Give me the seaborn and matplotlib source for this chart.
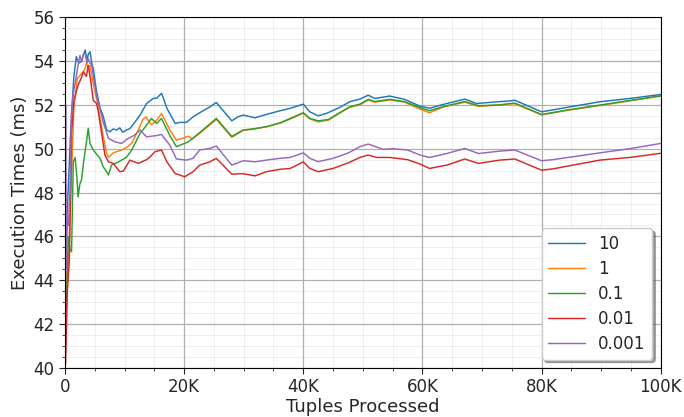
import matplotlib
matplotlib.use("Agg")
import matplotlib.pyplot as plt
from matplotlib.ticker import MultipleLocator, FuncFormatter
import numpy as np
import pandas as pd
import seaborn as sns

# Execution time (ms) as tuples are processed, one series per parameter value.
# x values are in thousands of tuples.
labels = ["10", "1", "0.1", "0.01", "0.001"]
colors = ["#1f77b4", "#ff7f0e", "#2ca02c", "#d62728", "#9467bd"]

x_10 = [0, 0.15, 0.35, 0.6, 0.9, 1.2, 1.5, 1.9, 2.3, 2.8, 3.1, 3.4, 3.7, 3.9, 4.2, 4.5,
        4.75, 5.3, 5.9, 6.4, 7.0, 7.55, 8.1, 8.7, 9.2, 9.7, 10.3, 10.9, 11.7, 12.6, 13.7,
        14.8, 15.4, 15.9, 16.2, 16.6, 17.1, 18.0, 18.5, 19.3, 20.4, 21.5, 22.6, 24.3, 25.4,
        26.5, 28.0, 29.0, 29.9, 31.9, 33.8, 36.1, 37.8, 40.0, 41.1, 42.5, 43.9, 46.1, 47.8,
        49.5, 50.9, 52.0, 54.5, 57.0, 59.6, 61.2, 63.5, 67.1, 69.1, 71.3, 74.7, 75.5, 80.0,
        84.2, 89.8, 94.8, 100]
y_10 = [43.0, 45.5, 47.0, 48.5, 50.5, 52.0, 53.3, 54.2, 53.9, 54.0, 54.3, 54.5, 54.0, 54.3,
        54.42, 53.9, 53.66, 52.6, 51.85, 51.5, 50.85, 50.77, 50.9, 50.85, 50.95, 50.75, 50.85,
        50.92, 51.2, 51.53, 52.06, 52.29, 52.3, 52.44, 52.52, 52.25, 51.84, 51.4, 51.15, 51.2,
        51.2, 51.45, 51.64, 51.9, 52.11, 51.75, 51.27, 51.45, 51.53, 51.41, 51.56, 51.73,
        51.84, 52.03, 51.68, 51.5, 51.61, 51.88, 52.14, 52.26, 52.44, 52.29, 52.4, 52.25,
        51.94, 51.84, 52.02, 52.26, 52.06, 52.11, 52.18, 52.21, 51.68, 51.88, 52.14, 52.29,
        52.47]

x_1 = [0, 0.2, 0.56, 0.96, 1.5, 2.07, 2.8, 3.3, 3.6, 3.9, 4.2, 4.75, 5.3, 5.9, 6.4, 7.0,
       7.3, 8.1, 9.5, 10.3, 11.2, 12.3, 13.1, 13.6, 14.5, 15.4, 16.2, 16.8, 17.6, 18.7, 20.0,
       20.7, 21.4, 22.6, 24.3, 25.4, 28.0, 29.9, 31.9, 33.8, 36.1, 37.8, 40.0, 41.1, 42.5,
       44.2, 46.1, 47.8, 49.5, 50.9, 52.0, 54.5, 57.0, 59.6, 61.2, 63.5, 67.1, 69.4, 74.7,
       75.5, 80.0, 84.2, 89.8, 94.8, 100]
y_1 = [41.5, 43.5, 44.8, 47.66, 51.91, 53.2, 53.43, 53.6, 53.89, 53.7, 53.8, 52.98, 52.3,
       51.4, 50.6, 49.79, 49.6, 49.81, 49.94, 50.05, 50.24, 50.85, 51.34, 51.45, 51.08, 51.3,
       51.6, 51.3, 50.85, 50.39, 50.5, 50.57, 50.45, 50.7, 51.08, 51.34, 50.52, 50.83, 50.9,
       51.0, 51.16, 51.35, 51.62, 51.36, 51.22, 51.3, 51.62, 51.89, 52.0, 52.22, 52.12, 52.22,
       52.12, 51.8, 51.64, 51.9, 52.12, 51.93, 52.04, 52.05, 51.54, 51.74, 51.97, 52.18, 52.4]

x_01 = [0, 0.3, 0.55, 0.84, 1.1, 1.4, 1.7, 2.0, 2.2, 2.5, 2.8, 3.1, 3.4, 3.6, 3.9, 4.2,
        4.75, 5.3, 5.9, 6.4, 7.0, 7.3, 7.8, 8.4, 9.0, 9.5, 10.3, 11.2, 12.6, 13.5, 14.5, 15.4,
        16.2, 16.7, 17.6, 18.7, 20.7, 22.6, 25.4, 28.0, 29.9, 31.9, 33.8, 36.1, 37.8, 40.0,
        41.1, 42.5, 44.2, 46.1, 47.8, 49.5, 50.9, 52.0, 54.5, 57.0, 59.6, 61.2, 63.5, 67.1,
        69.4, 73.0, 74.7, 75.5, 80.0, 84.2, 89.8, 94.8, 100]
y_01 = [40.2, 43.5, 46.0, 45.4, 45.3, 49.4, 49.6, 48.7, 47.8, 48.4, 48.6, 49.33, 49.94, 50.3,
        50.93, 50.24, 49.94, 49.75, 49.56, 49.18, 48.95, 48.8, 49.25, 49.33, 49.4, 49.48, 49.6,
        49.94, 50.7, 51.0, 51.38, 51.15, 51.38, 51.1, 50.6, 50.09, 50.31, 50.73, 51.38, 50.56,
        50.85, 50.92, 51.0, 51.18, 51.38, 51.64, 51.38, 51.27, 51.33, 51.64, 51.91, 52.03,
        52.25, 52.15, 52.25, 52.15, 51.87, 51.73, 51.92, 52.15, 51.96, 51.99, 52.06, 52.08,
        51.56, 51.76, 51.99, 52.2, 52.41]

x_001 = [0, 0.1, 0.4, 0.73, 1.1, 1.5, 2.2, 2.7, 3.1, 3.6, 3.9, 4.3, 4.75, 5.3, 5.6, 6.2,
         6.7, 7.3, 8.1, 9.2, 9.8, 10.9, 12.3, 13.7, 14.3, 15.1, 16.2, 17.1, 18.5, 20.1, 21.5,
         22.6, 24.3, 25.4, 28.0, 29.9, 31.9, 33.8, 36.1, 37.8, 40.0, 41.1, 42.5, 45.0, 47.6,
         49.5, 50.9, 52.3, 54.5, 57.5, 59.6, 61.2, 64.1, 67.1, 69.4, 73.0, 75.5, 80.0, 81.9,
         89.8, 94.8, 100]
y_001 = [57.0, 40.2, 43.5, 44.92, 50.69, 52.2, 52.9, 53.2, 53.5, 53.3, 53.8, 53.13, 52.2,
         52.06, 51.68, 50.62, 49.71, 49.4, 49.33, 48.95, 48.98, 49.48, 49.33, 49.5, 49.63,
         49.86, 49.94, 49.4, 48.87, 48.72, 48.95, 49.25, 49.4, 49.56, 48.84, 48.86, 48.76,
         48.95, 49.06, 49.1, 49.4, 49.1, 48.95, 49.1, 49.36, 49.6, 49.71, 49.6, 49.6, 49.5,
         49.3, 49.1, 49.25, 49.53, 49.33, 49.48, 49.53, 49.02, 49.08, 49.48, 49.6, 49.79]

x_0001 = [0, 0.1, 0.2, 0.4, 0.55, 0.84, 1.1, 1.4, 1.7, 2.2, 2.5, 2.8, 3.1, 3.4, 3.7, 3.9,
          4.2, 4.5, 5.3, 5.9, 6.4, 7.3, 8.4, 9.5, 10.6, 11.6, 12.6, 13.7, 15.4, 16.2, 17.6,
          18.7, 20.4, 21.5, 22.6, 24.3, 25.4, 28.0, 29.9, 31.9, 33.8, 36.1, 37.8, 40.0, 41.1,
          42.5, 45.0, 47.6, 49.5, 50.9, 53.4, 55.0, 57.5, 59.6, 61.2, 64.1, 67.1, 69.4, 73.0,
          75.5, 80.0, 81.9, 89.8, 94.8, 100]
y_0001 = [41.0, 52.0, 44.5, 46.8, 46.5, 47.97, 51.76, 52.5, 52.98, 53.8, 54.25, 53.96, 54.3,
          54.34, 53.9, 54.1, 53.9, 53.8, 52.37, 51.8, 51.22, 50.47, 50.31, 50.24, 50.47, 50.6,
          50.85, 50.54, 50.6, 50.65, 50.16, 49.53, 49.48, 49.56, 49.94, 50.01, 50.12, 49.25,
          49.45, 49.4, 49.48, 49.56, 49.6, 49.81, 49.56, 49.41, 49.56, 49.81, 50.09, 50.21,
          49.97, 50.0, 49.94, 49.71, 49.6, 49.78, 50.01, 49.78, 49.89, 49.94, 49.45, 49.5,
          49.81, 50.0, 50.24]

series = [(x_10, y_10), (x_1, y_1), (x_01, y_01), (x_001, y_001), (x_0001, y_0001)]

frames = []
for lab, (xs, ys) in zip(labels, series):
    frames.append(pd.DataFrame({"tuples": np.asarray(xs) * 1000.0,
                                "time": ys, "param": lab}))
df = pd.concat(frames, ignore_index=True)

sns.set_style("ticks")
plt.rcParams["font.family"] = ["DejaVu Sans"]
plt.rcParams["font.size"] = 12

fig = plt.figure(figsize=(6.84, 4.17), dpi=100)
ax = fig.add_axes([0.095, 0.1175, 0.871, 0.8415])

sns.lineplot(data=df, x="tuples", y="time", hue="param", hue_order=labels,
             palette=colors, estimator=None, sort=False, linewidth=1.05, ax=ax)

ax.set_xlim(0, 100000)
ax.set_ylim(40, 56)
ax.xaxis.set_major_locator(MultipleLocator(20000))
ax.xaxis.set_minor_locator(MultipleLocator(5000))
ax.yaxis.set_major_locator(MultipleLocator(2))
ax.yaxis.set_minor_locator(MultipleLocator(0.5))
ax.xaxis.set_major_formatter(FuncFormatter(
    lambda v, _: "0" if v == 0 else f"{v / 1000:.0f}K"))

# translucent minor grid so it never paints over the major lines it crosses
ax.grid(which="major", color="#b0b0b0", linewidth=0.9, linestyle="-")
ax.grid(which="minor", color="black", alpha=0.075, linewidth=0.6, linestyle="-")
ax.set_axisbelow(True)
ax.tick_params(which="major", direction="out", length=4, labelsize=12)
ax.tick_params(which="minor", direction="out", length=2)
for s in ax.spines.values():
    s.set_visible(True)
    s.set_color("black")
    s.set_linewidth(0.8)

ax.set_xlabel("Tuples Processed", fontsize=13, labelpad=1)
ax.set_ylabel("Execution Times (ms)", fontsize=13, labelpad=3)

ax.legend(loc="lower right", fontsize=12, shadow=True, fancybox=True, framealpha=1.0,
          labelspacing=0.42, handlelength=2.2)

fig.savefig("out.png", dpi=100)
